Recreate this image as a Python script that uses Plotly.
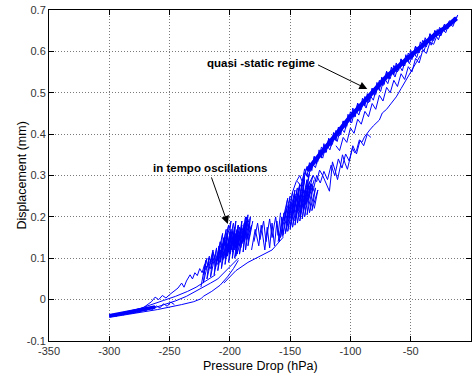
import plotly.graph_objects as go

# ---------------- data ----------------
x_tick_vals = [-350, -300, -250, -200, -150, -100, -50, 0]
x_tick_text = ["-350", "-300", "-250", "-200", "-150", "-100", "-50", "0"]
y_tick_vals = [-0.1, 0, 0.1, 0.2, 0.3, 0.4, 0.5, 0.6, 0.7]
y_tick_text = ["-0.1", "0", "0.1", "0.2", "0.3", "0.4", "0.5", "0.6", "0.7"]
x_title = "Pressure Drop (hPa)"
y_title = "Displacement (mm)"

# lower-left tail (start of the loading)
tail_core_x = [-300, -290, -280, -270, -262]
tail_core_y = [-0.039, -0.034, -0.029, -0.023, -0.018]

tail_band_x = [-300, -297, -294, -291, -288, -285, -282, -279, -276, -273, -270, -267, -264,
               -261, -258, -255, -252, -249, -246]
tail_band_y = [-0.040, -0.035, -0.040, -0.032, -0.037, -0.029, -0.034, -0.026, -0.031, -0.022,
               -0.028, -0.019, -0.024, -0.015, -0.020, -0.010, -0.016, -0.006, -0.012]

tail_upper_x = [-300, -292, -285, -278, -272, -268, -265, -262, -259, -256, -253, -250, -246,
                -243, -240, -238, -236, -233, -231, -229, -227, -225, -223, -221, -219, -217, -215]
tail_upper_y = [-0.038, -0.033, -0.030, -0.024, -0.020, -0.012, -0.005, 0.006, 0.000, 0.010,
                0.004, 0.012, 0.020, 0.028, 0.040, 0.030, 0.045, 0.060, 0.050, 0.065, 0.058,
                0.075, 0.065, 0.085, 0.078, 0.100, 0.090]

tail_mid_x = [-212, -220, -228, -235, -245, -255, -265, -275, -285, -295, -300]
tail_mid_y = [0.060, 0.045, 0.030, 0.020, 0.008, -0.002, -0.012, -0.022, -0.030, -0.037, -0.040]

tail_inner_x = [-299, -288, -276, -265, -255, -245, -236, -228, -222, -216, -210, -205, -200, -196, -193]
tail_inner_y = [-0.041, -0.036, -0.030, -0.022, -0.013, -0.003, 0.008, 0.020, 0.030, 0.040,
                0.050, 0.065, 0.078, 0.090, 0.100]

tail_lower_x = [-300, -280, -260, -240, -230, -224, -222, -215, -208, -202, -197, -193]
tail_lower_y = [-0.043, -0.034, -0.024, -0.012, -0.005, 0.002, 0.008, 0.020, 0.035, 0.055, 0.075, 0.095]

# first oscillation cluster ("in tempo oscillations")
clus1a_x = [-224, -220, -222, -217, -219, -214, -216, -211, -213, -208, -210, -205, -207, -202,
            -204, -199, -201, -196, -198, -193, -195, -190, -192, -187, -189, -185, -187, -183,
            -185, -181]
clus1a_y = [0.030, 0.095, 0.040, 0.105, 0.050, 0.115, 0.055, 0.125, 0.060, 0.140, 0.070, 0.150,
            0.075, 0.160, 0.085, 0.170, 0.090, 0.175, 0.100, 0.180, 0.105, 0.190, 0.110, 0.200,
            0.115, 0.205, 0.120, 0.200, 0.130, 0.190]
clus1b_x = [-212, -208, -210, -206, -208, -204, -206, -202, -204, -200, -202, -198, -200, -196,
            -198, -194, -196, -192, -194, -190, -192, -188, -190, -186, -188, -184, -186, -182, -184]
clus1b_y = [0.080, 0.130, 0.085, 0.135, 0.090, 0.145, 0.095, 0.150, 0.100, 0.160, 0.105, 0.165,
            0.110, 0.165, 0.115, 0.170, 0.120, 0.175, 0.125, 0.180, 0.130, 0.185, 0.135, 0.190,
            0.140, 0.185, 0.145, 0.180, 0.150]
clus1c_x = [-205, -201, -203, -199, -201, -197, -199, -195, -197, -193, -195, -191, -193, -189]
clus1c_y = [0.110, 0.140, 0.105, 0.150, 0.115, 0.155, 0.120, 0.160, 0.125, 0.165, 0.130, 0.170,
            0.135, 0.175]
clus1d_x = [-218, -214, -212, -209, -211, -206, -208, -203, -206, -201, -204, -199, -202, -197,
            -199, -195, -197, -193, -196, -191, -194, -188, -191, -186, -189, -184]
clus1d_y = [0.070, 0.120, 0.075, 0.130, 0.090, 0.160, 0.100, 0.170, 0.120, 0.180, 0.130, 0.190,
            0.115, 0.185, 0.125, 0.190, 0.120, 0.180, 0.100, 0.170, 0.110, 0.175, 0.125, 0.200,
            0.140, 0.195]
clus1e_x = [-222, -219, -221, -217, -214, -216, -212, -210, -208, -205, -203, -200, -198, -195,
            -193, -190, -188, -185]
clus1e_y = [0.060, 0.100, 0.070, 0.090, 0.100, 0.075, 0.110, 0.095, 0.120, 0.100, 0.130, 0.115,
            0.140, 0.125, 0.150, 0.140, 0.160, 0.150]

# loops between the two clusters
link_a_x = [-182, -179, -176, -174, -171, -169, -167, -165, -163, -161, -159, -157, -156]
link_a_y = [0.120, 0.170, 0.130, 0.180, 0.120, 0.175, 0.125, 0.185, 0.130, 0.190, 0.140, 0.200, 0.150]
link_b_x = [-180, -177, -175, -172, -170, -167, -165, -162, -160, -158]
link_b_y = [0.140, 0.185, 0.145, 0.190, 0.140, 0.195, 0.150, 0.200, 0.155, 0.210]
link_back_x = [-156, -165, -175, -185, -195, -205]
link_back_y = [0.150, 0.120, 0.105, 0.090, 0.070, 0.040]

# second oscillation cluster
clus2a_x = [-160, -155, -158, -153, -156, -151, -154, -149, -152, -147, -150, -145, -148, -143,
            -146, -141, -144, -139, -142, -137, -140, -135, -138, -133, -136, -131, -134, -129,
            -132, -127, -130]
clus2a_y = [0.140, 0.210, 0.150, 0.220, 0.155, 0.230, 0.160, 0.235, 0.165, 0.240, 0.170, 0.250,
            0.175, 0.255, 0.180, 0.260, 0.185, 0.265, 0.190, 0.270, 0.195, 0.275, 0.200, 0.280,
            0.205, 0.275, 0.210, 0.270, 0.215, 0.265, 0.220]
clus2b_x = [-157, -152, -155, -150, -153, -148, -151, -146, -149, -144, -147, -142, -145, -140,
            -143, -138, -141, -136, -139, -134, -137, -132, -135, -130]
clus2b_y = [0.180, 0.245, 0.190, 0.250, 0.185, 0.260, 0.200, 0.265, 0.200, 0.270, 0.210, 0.280,
            0.205, 0.285, 0.215, 0.290, 0.220, 0.290, 0.225, 0.285, 0.230, 0.280, 0.240, 0.290]
clus2c_x = [-154, -146, -150, -142, -146, -138, -142, -134, -139, -131]
clus2c_y = [0.160, 0.255, 0.175, 0.275, 0.190, 0.300, 0.200, 0.305, 0.215, 0.300]

# wavy lower branch
wavy_x = [-145, -140, -136, -133, -131, -128, -125.6, -123, -121.5, -119, -117.4, -116, -114.9,
          -112.5, -110.7, -108.5, -106.6, -104.5, -102.5, -100.5, -98.3, -96.5, -95, -92.6, -90.5,
          -88.4, -86, -84, -81, -78, -76, -73.6, -70, -66, -62, -58, -54, -50, -46, -42]
wavy_y = [0.220, 0.255, 0.270, 0.290, 0.300, 0.285, 0.313, 0.300, 0.290, 0.275, 0.262, 0.300,
          0.333, 0.310, 0.290, 0.320, 0.350, 0.330, 0.315, 0.340, 0.366, 0.355, 0.360, 0.386,
          0.380, 0.393, 0.403, 0.410, 0.420, 0.430, 0.434, 0.451, 0.460, 0.475, 0.490, 0.510,
          0.530, 0.550, 0.570, 0.590]
wavy2_x = [-138, -134, -131, -128, -125, -122, -119, -116, -113, -110, -107, -104, -101, -98,
           -95, -92, -89, -86, -83]
wavy2_y = [0.245, 0.275, 0.262, 0.300, 0.282, 0.310, 0.290, 0.325, 0.300, 0.340, 0.318, 0.352,
           0.335, 0.372, 0.352, 0.385, 0.372, 0.400, 0.392]

# quasi-static band: core, loading zigzag, extra zigzag, unloading zigzag
quasi_core_x = [-136, -130, -120, -110, -100, -90, -80, -70, -60, -50, -40, -30, -20, -12]
quasi_core_y = [0.312, 0.334, 0.371, 0.404, 0.442, 0.474, 0.505, 0.539, 0.564, 0.590, 0.615,
                0.640, 0.660, 0.680]

quasi_up_x = [-148, -145, -142, -140, -138, -136, -134, -132, -130, -128, -126, -124, -122, -120,
              -118, -116, -114, -112, -110, -108, -106, -104, -102, -100, -98, -96, -94, -92,
              -90, -88, -86, -84, -82, -80, -78, -76, -74, -72, -70, -68, -66, -64, -62, -60,
              -58, -56, -54, -52, -50, -48, -46, -44, -42, -40, -38, -36, -34, -32, -30, -28,
              -26, -24, -22, -20, -18, -16, -14, -12, -11]
quasi_up_y = [0.260, 0.285, 0.300, 0.285, 0.316, 0.298, 0.331, 0.312, 0.346, 0.328, 0.362,
              0.342, 0.377, 0.356, 0.390, 0.371, 0.404, 0.384, 0.417, 0.398, 0.432, 0.414,
              0.448, 0.428, 0.463, 0.442, 0.475, 0.455, 0.487, 0.468, 0.498, 0.478, 0.511,
              0.492, 0.525, 0.506, 0.538, 0.520, 0.552, 0.533, 0.562, 0.543, 0.572, 0.554,
              0.582, 0.564, 0.592, 0.575, 0.603, 0.586, 0.613, 0.597, 0.623, 0.608, 0.633,
              0.619, 0.643, 0.630, 0.651, 0.640, 0.658, 0.650, 0.666, 0.660, 0.674, 0.670,
              0.682, 0.680, 0.688]

quasi_mid_x = [-139, -136, -133, -130, -127, -124, -121, -118, -115, -112, -109, -106, -103, -100,
               -97, -94, -91, -88, -85, -82, -79, -76, -73, -70, -67, -64, -61, -58, -55, -52,
               -49, -46, -43, -40, -37, -34, -31, -28, -25, -22, -19, -16]
quasi_mid_y = [0.287, 0.322, 0.310, 0.346, 0.334, 0.369, 0.355, 0.389, 0.375, 0.409, 0.396,
               0.431, 0.419, 0.454, 0.441, 0.474, 0.459, 0.491, 0.476, 0.510, 0.496, 0.530,
               0.517, 0.551, 0.534, 0.566, 0.550, 0.581, 0.565, 0.596, 0.580, 0.612, 0.596,
               0.627, 0.611, 0.642, 0.626, 0.653, 0.638, 0.665, 0.655, 0.676]

quasi_down_x = [-12, -15, -18, -21, -24, -27, -30, -33, -36, -39, -42, -45, -48, -51, -54, -57,
                -60, -63, -66, -69, -72, -75, -78, -81, -84, -87, -90, -93, -96, -99, -102,
                -105, -108, -111, -114, -117, -120, -123, -126, -129, -132, -135, -138, -141, -144]
quasi_down_y = [0.684, 0.660, 0.668, 0.645, 0.655, 0.628, 0.643, 0.615, 0.630, 0.600, 0.615,
                0.585, 0.600, 0.570, 0.584, 0.553, 0.568, 0.538, 0.553, 0.522, 0.536, 0.503,
                0.516, 0.482, 0.495, 0.463, 0.478, 0.446, 0.460, 0.427, 0.439, 0.404, 0.416,
                0.382, 0.395, 0.362, 0.375, 0.342, 0.354, 0.319, 0.330, 0.295, 0.307, 0.274, 0.286]

# second, lighter sub-band below the main band
quasi_low_x = [-112, -109, -106, -103, -100, -97, -94, -91, -88, -85, -82, -79, -76, -73, -70,
               -67, -64, -61, -58, -55, -52, -49, -46, -43, -40, -37, -34, -31, -28, -25, -22]
quasi_low_y = [0.372, 0.360, 0.392, 0.380, 0.415, 0.402, 0.436, 0.424, 0.455, 0.442, 0.474,
               0.460, 0.494, 0.480, 0.513, 0.500, 0.530, 0.515, 0.546, 0.532, 0.563, 0.550,
               0.583, 0.572, 0.603, 0.595, 0.622, 0.617, 0.640, 0.638, 0.660]

# annotations: text position, arrow tail, arrow head (data units)
notes_text = ["in tempo oscillations", "quasi -static regime"]
notes_text_x = [-216.5, -174.5]
notes_text_y = [0.318, 0.572]
notes_tail_x = [-215.7, -128.1]
notes_tail_y = [0.299, 0.569]
notes_head_x = [-201.7, -86.0]
notes_head_y = [0.183, 0.509]

# ---------------- figure ----------------
thin = [
    (tail_band_x, tail_band_y), (tail_upper_x, tail_upper_y), (tail_mid_x, tail_mid_y),
    (tail_inner_x, tail_inner_y), (tail_lower_x, tail_lower_y),
    (clus1a_x, clus1a_y), (clus1b_x, clus1b_y), (clus1c_x, clus1c_y),
    (clus1d_x, clus1d_y), (clus1e_x, clus1e_y),
    (link_a_x, link_a_y), (link_b_x, link_b_y), (link_back_x, link_back_y),
    (clus2a_x, clus2a_y), (clus2b_x, clus2b_y), (clus2c_x, clus2c_y),
    (wavy_x, wavy_y), (wavy2_x, wavy2_y),
    (quasi_up_x, quasi_up_y), (quasi_mid_x, quasi_mid_y), (quasi_down_x, quasi_down_y),
    (quasi_low_x, quasi_low_y),
]
thick = [(tail_core_x, tail_core_y, 3.5), (quasi_core_x, quasi_core_y, 4.5)]

fig = go.Figure()
for sx, sy, w in thick:
    fig.add_trace(go.Scatter(x=sx, y=sy, mode="lines", line=dict(color="#0000ff", width=w),
                             showlegend=False, hoverinfo="skip"))
for sx, sy in thin:
    fig.add_trace(go.Scatter(x=sx, y=sy, mode="lines",
                             line=dict(color="#0000ff", width=1),
                             showlegend=False, hoverinfo="skip"))

FONT = "Arial, Liberation Sans, Helvetica, sans-serif"

annotations = []
for t, tx, ty, ax, ay, hx, hy in zip(notes_text, notes_text_x, notes_text_y,
                                      notes_tail_x, notes_tail_y, notes_head_x, notes_head_y):
    annotations.append(dict(x=tx, y=ty, xref="x", yref="y", text="<b>%s</b>" % t,
                            showarrow=False, font=dict(family=FONT, size=11.5, color="#000000")))
    annotations.append(dict(x=hx, y=hy, xref="x", yref="y", ax=ax, ay=ay, axref="x", ayref="y",
                            text="", showarrow=True, arrowhead=2, arrowsize=1.6,
                            arrowwidth=1, arrowcolor="#000000", standoff=0, startstandoff=0))

# axis titles placed below / left of the plot area
annotations.append(dict(x=0.5, y=0, xref="paper", yref="paper", yshift=-25, text=x_title,
                        showarrow=False, xanchor="center", yanchor="middle",
                        font=dict(family=FONT, size=12.5, color="#000000")))
annotations.append(dict(x=0, y=0.5, xref="paper", yref="paper", xshift=-28, text=y_title,
                        showarrow=False, xanchor="center", yanchor="middle", textangle=-90,
                        font=dict(family=FONT, size=12.5, color="#000000")))

axis_common = dict(showline=True, linecolor="#000000", linewidth=1, mirror="ticks",
                   ticks="inside", ticklen=5, tickcolor="#000000", showgrid=True,
                   gridcolor="#7a7a7a", griddash="1px,2px", gridwidth=1, zeroline=False,
                   automargin=False,
                   tickfont=dict(family=FONT, size=11, color="#333333"))

fig.update_layout(
    width=473, height=376,
    margin=dict(l=49, r=2, t=10, b=35, autoexpand=False),
    paper_bgcolor="#ffffff", plot_bgcolor="#ffffff",
    xaxis=dict(range=[-350, 0], tickmode="array", tickvals=x_tick_vals, ticktext=x_tick_text,
               **axis_common),
    yaxis=dict(range=[-0.1, 0.7], tickmode="array", tickvals=y_tick_vals, ticktext=y_tick_text,
               **axis_common),
    annotations=annotations,
    showlegend=False,
)

# remove the browser's default 8px page margin so the figure sits at the window's corner
fig.write_html("out.html",
               config={"displayModeBar": False, "staticPlot": True},
               post_script="document.body.style.margin='0';document.body.style.overflow='hidden';")
